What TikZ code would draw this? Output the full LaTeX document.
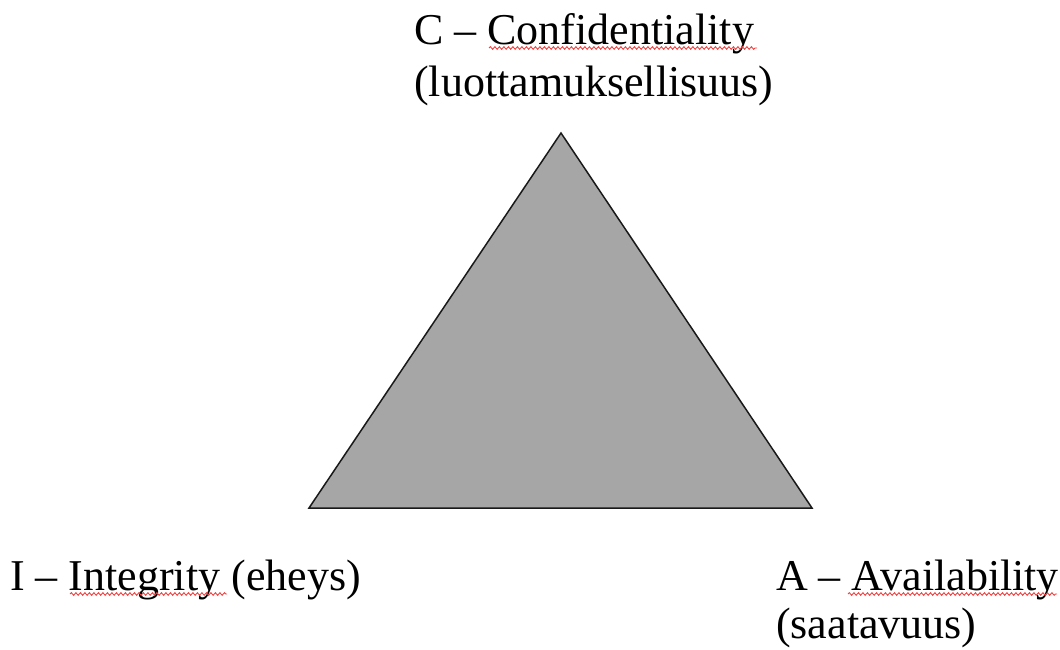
\documentclass[tikz,border=0pt]{standalone}
\usepackage{fontspec}
\setmainfont{Liberation Serif}
\usetikzlibrary{decorations.pathmorphing}
\tikzset{
  lbl/.style={anchor=base west, inner sep=0pt, font=\fontsize{44}{53}\selectfont, text=black},
  tri/.style={fill=triGray, draw=black!90, line width=1.5pt, line join=miter},
  spell/.style={draw=spellRed, line width=0.9pt, decorate, decoration={snake, segment length=4.5pt, amplitude=1.3pt}}
}
\definecolor{triGray}{HTML}{A6A6A6}
\definecolor{spellRed}{HTML}{F04040}
\begin{document}
\begin{tikzpicture}[x=1pt,y=-1pt]
\useasboundingbox (0,0) rectangle (1060,649);
% triangle
\coordinate (top) at (561,133);
\coordinate (bl) at (309,508);
\coordinate (br) at (812,508);
\path[tri] (top) -- (br) -- (bl) -- cycle;
% labels
\node[lbl] (c1) at (414,44) {C -- Confidentiality};
\node[lbl] (c2) at (414,96) {(luottamuksellisuus)};
\node[lbl] (i1) at (10,590) {I -- Integrity (eheys)};
\node[lbl] (a1) at (776,590) {A -- Availability};
\node[lbl] (a2) at (776,638) {(saatavuus)};
% spell-check underlines
\coordinate (u1s) at (489,48); \coordinate (u1e) at (757,48);
\coordinate (u2s) at (70,594); \coordinate (u2e) at (227,594);
\coordinate (u3s) at (848,594); \coordinate (u3e) at (1057,594);
\draw[spell] (u1s) -- (u1e);
\draw[spell] (u2s) -- (u2e);
\draw[spell] (u3s) -- (u3e);
\end{tikzpicture}
\end{document}
